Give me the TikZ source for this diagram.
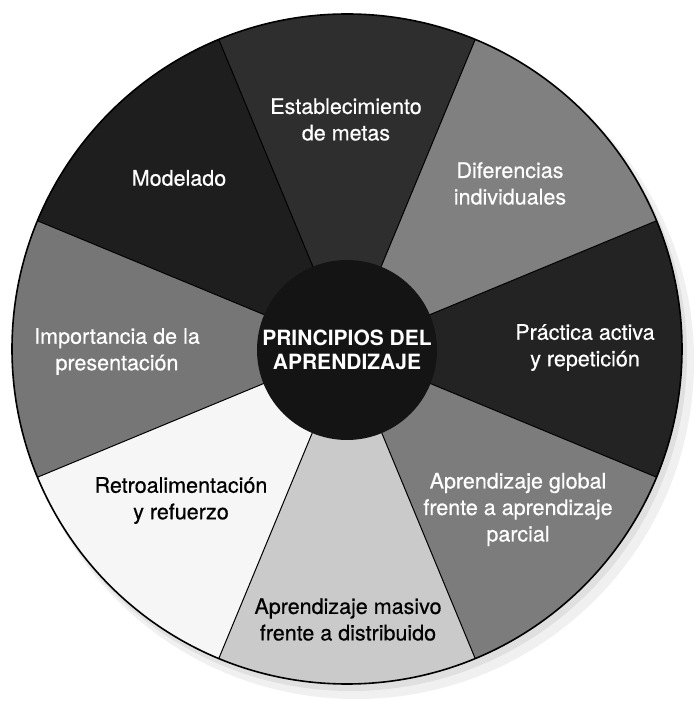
\documentclass[tikz,border=0pt]{standalone}
\usepackage{fontspec}
\setmainfont{TeX Gyre Heros}
\newfontfamily\medfont[FakeBold=0.5]{TeX Gyre Heros}
\usetikzlibrary{calc}
\definecolor{cModel}{HTML}{1E1E1E}
\definecolor{cMetas}{HTML}{2E2E2E}
\definecolor{cDifer}{HTML}{808080}
\definecolor{cPract}{HTML}{232323}
\definecolor{cGlob}{HTML}{7C7C7C}
\definecolor{cMasiv}{HTML}{CACACA}
\definecolor{cRetro}{HTML}{F6F6F6}
\definecolor{cImpor}{HTML}{767676}
\definecolor{cCent}{HTML}{141414}
\tikzset{
  lbl/.style={align=center, inner sep=0pt, font=\medfont\fontsize{21.5}{26.5}\selectfont},
  lbllight/.style={lbl, text=white},
  lbldark/.style={lbl, text=black},
  ctr/.style={align=center, inner sep=0pt, text=white, font=\bfseries\fontsize{21}{24.5}\selectfont},
  sepline/.style={draw=black, line width=1pt},
}
\begin{document}
\begin{tikzpicture}[x=1pt,y=1pt]
\useasboundingbox (0,0) rectangle (698,712);
\fill[white] (0,0) rectangle (698,712);
\coordinate (C) at (347,363);
% soft shadow
\fill[black!6] ($(C)+(9,-12)$) circle[radius=338];
\fill[black!12] ($(C)+(4,-6)$) circle[radius=336];
% sectors
\foreach \a/\col in {-22.5/cPract, 22.5/cDifer, 67.5/cMetas, 112.5/cModel, 157.5/cImpor, 202.5/cRetro, 247.5/cMasiv, 292.5/cGlob}{
  \fill[\col] (C) -- ++(\a:335) arc[start angle=\a, delta angle=45, radius=335] -- cycle;
}
\foreach \a in {22.5,67.5,...,337.5}{
  \draw[sepline] (C) -- ++(\a:335);
}
\draw[black, line width=1.6pt] (C) circle[radius=335];
% centre
\node[circle, fill=cCent, minimum size=180pt, inner sep=0pt] (centre) at (347,362) {};
\node[ctr] (ctext) at (347,362) {PRINCIPIOS DEL\\APRENDIZAJE};
% labels
\node[lbllight] (metas) at (346,592.5) {Establecimiento\\de metas};
\node[lbllight] (model) at (179,534) {Modelado};
\node[lbllight] (difer) at (510,528.5) {Diferencias\\individuales};
\node[lbllight] (pract) at (585,364.5) {Práctica activa\\y repetición};
\node[lbllight] (glob) at (518,202.5) {Aprendizaje global\\frente a aprendizaje\\parcial};
\node[lbldark] (masiv) at (348,92.5) {Aprendizaje masivo\\frente a distribuido};
\node[lbldark] (retro) at (181,211.5) {Retroalimentación\\y refuerzo};
\node[lbllight] (impor) at (117,360.5) {Importancia de la\\presentación};
\end{tikzpicture}
\end{document}
